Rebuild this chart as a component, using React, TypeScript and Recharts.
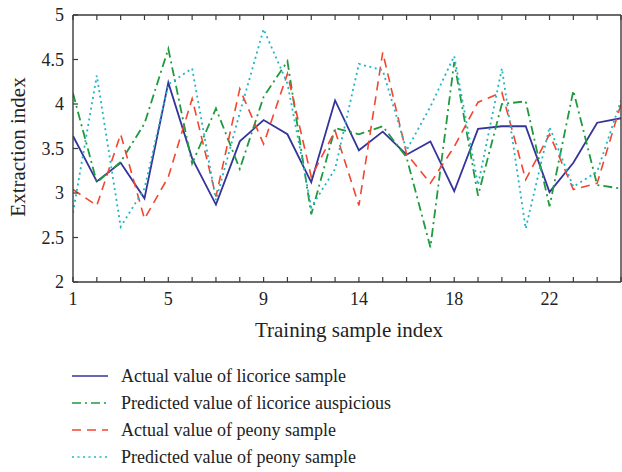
import { LineChart, Line, XAxis, YAxis, Legend } from 'recharts';

const FONT = '"Liberation Serif", "Times New Roman", serif';

// sample positions along the x axis and the labels the original figure prints
const samplePos = [0, 1, 2, 3, 4, 5, 6, 7, 8, 9, 10, 11, 12, 13, 14, 15, 16, 17, 18, 19, 20, 21, 22, 23];
const xTickPos = [0, 4, 8, 12, 16, 20];
const xTickLabels = ['1', '5', '9', '14', '18', '22'];
const yTicks = [2, 2.5, 3, 3.5, 4, 4.5, 5];

const actualLicorice = [3.64, 3.13, 3.34, 2.94, 4.24, 3.39, 2.87, 3.58, 3.82, 3.66, 3.12, 4.04, 3.48, 3.69, 3.43, 3.58, 3.02, 3.72, 3.75, 3.75, 3.01, 3.34, 3.79, 3.84];
const predictedLicorice = [4.12, 3.12, 3.35, 3.78, 4.62, 3.33, 3.95, 3.27, 4.08, 4.48, 2.76, 3.73, 3.66, 3.75, 3.4, 2.39, 4.47, 2.97, 4.0, 4.03, 2.85, 4.15, 3.09, 3.05];
const actualPeony = [3.04, 2.86, 3.66, 2.71, 3.18, 4.06, 2.96, 4.17, 3.55, 4.34, 3.18, 3.7, 2.86, 4.58, 3.44, 3.11, 3.52, 4.02, 4.13, 3.15, 3.66, 3.04, 3.11, 4.0];
const predictedPeony = [2.78, 4.32, 2.62, 3.05, 4.22, 4.4, 2.92, 3.9, 4.84, 4.23, 2.84, 3.27, 4.45, 4.38, 3.48, 3.97, 4.54, 3.09, 4.4, 2.6, 3.74, 3.07, 3.24, 4.04];

const chartData = samplePos.map((x, i) => ({
  x,
  actualLicorice: actualLicorice[i],
  predictedLicorice: predictedLicorice[i],
  actualPeony: actualPeony[i],
  predictedPeony: predictedPeony[i],
}));

const SERIES = [
  { key: 'actualLicorice', name: 'Actual value of licorice sample', color: '#34349a', dash: undefined, width: 1.8 },
  { key: 'predictedLicorice', name: 'Predicted value of licorice auspicious', color: '#1f9a3e', dash: '9 4 2 4', width: 1.8 },
  { key: 'actualPeony', name: 'Actual value of peony sample', color: '#f4452f', dash: '9 6', width: 1.6 },
  { key: 'predictedPeony', name: 'Predicted value of peony sample', color: '#1fb6c4', dash: '2 3.5', width: 1.8 },
];

const AXIS = '#3a3a3a';
const axisLine = { stroke: AXIS, strokeWidth: 1.4 };
const TICK_LEN = 5;

function xLabel(v: number) {
  const k = xTickPos.indexOf(v);
  return k >= 0 ? xTickLabels[k] : '';
}

// inward tick marks, matlab style, drawn by the tick renderer itself
function BottomTick(props: any) {
  const { x, y, payload } = props;
  return (
    <g>
      <line x1={x} x2={x} y1={y} y2={y - TICK_LEN} stroke={AXIS} strokeWidth={1.2} />
      <text x={x} y={y + 23} textAnchor="middle" fontSize={18} fontFamily={FONT} fill="#222">
        {xLabel(payload.value)}
      </text>
    </g>
  );
}

function TopTick(props: any) {
  const { x, y } = props;
  return <line x1={x} x2={x} y1={y} y2={y + TICK_LEN} stroke={AXIS} strokeWidth={1.2} />;
}

function LeftTick(props: any) {
  const { x, y, payload } = props;
  return (
    <g>
      <line x1={x} x2={x + TICK_LEN} y1={y} y2={y} stroke={AXIS} strokeWidth={1.2} />
      <text x={x - 9} y={y + 6} textAnchor="end" fontSize={18} fontFamily={FONT} fill="#222">
        {payload.value}
      </text>
    </g>
  );
}

function RightTick(props: any) {
  const { x, y } = props;
  return <line x1={x} x2={x - TICK_LEN} y1={y} y2={y} stroke={AXIS} strokeWidth={1.2} />;
}

function renderLegend() {
  return (
    <svg width={420} height={110} style={{ display: 'block' }}>
      {SERIES.map((s, i) => (
        <g key={s.key} transform={`translate(0, ${i * 27})`}>
          <line x1={2} x2={38} y1={11} y2={11} stroke={s.color} strokeWidth={1.6} strokeDasharray={s.dash} />
          <text x={51} y={17} fontSize={18} fontFamily={FONT} fill="#222">
            {s.name}
          </text>
        </g>
      ))}
    </svg>
  );
}

export default function App() {
  return (
    <div style={{ position: 'absolute', left: 0, top: 0, background: '#fff', fontFamily: FONT }}>
      <LineChart width={622} height={472} data={chartData} margin={{ top: 14, right: 0, bottom: 132, left: 0 }}>
        <XAxis
          dataKey="x"
          type="number"
          domain={[0, 23]}
          allowDataOverflow
          ticks={samplePos}
          interval={0}
          height={58}
          axisLine={axisLine}
          tickLine={false}
          tickSize={0}
          tickMargin={0}
          tick={<BottomTick />}
          label={{
            content: () => (
              <text x={349} y={337} textAnchor="middle" fontSize={21} fontFamily={FONT} fill="#222">
                Training sample index
              </text>
            ),
          }}
        />
        <XAxis
          xAxisId="top"
          orientation="top"
          dataKey="x"
          type="number"
          domain={[0, 23]}
          allowDataOverflow
          ticks={samplePos}
          interval={0}
          height={1}
          axisLine={axisLine}
          tickLine={false}
          tickSize={0}
          tickMargin={0}
          tick={<TopTick />}
        />
        <YAxis
          type="number"
          domain={[2, 5]}
          ticks={yTicks}
          interval={0}
          width={73}
          axisLine={axisLine}
          tickLine={false}
          tickSize={0}
          tickMargin={0}
          tick={<LeftTick />}
          label={{
            content: () => (
              <text x={25} y={147} transform="rotate(-90 25 147)" textAnchor="middle" fontSize={21} fontFamily={FONT} fill="#222">
                Extraction index
              </text>
            ),
          }}
        />
        <YAxis
          yAxisId="right"
          orientation="right"
          type="number"
          domain={[2, 5]}
          ticks={yTicks}
          interval={0}
          width={1}
          axisLine={axisLine}
          tickLine={false}
          tickSize={0}
          tickMargin={0}
          tick={<RightTick />}
        />
        {SERIES.map((s) => (
          <Line
            key={s.key}
            type="linear"
            dataKey={s.key}
            name={s.name}
            stroke={s.color}
            strokeWidth={s.width}
            strokeDasharray={s.dash}
            dot={false}
            activeDot={false}
            isAnimationActive={false}
          />
        ))}
        <Legend
          layout="vertical"
          align="center"
          verticalAlign="middle"
          content={renderLegend}
          wrapperStyle={{ left: 70, top: 365, width: 420 }}
        />
      </LineChart>
    </div>
  );
}
